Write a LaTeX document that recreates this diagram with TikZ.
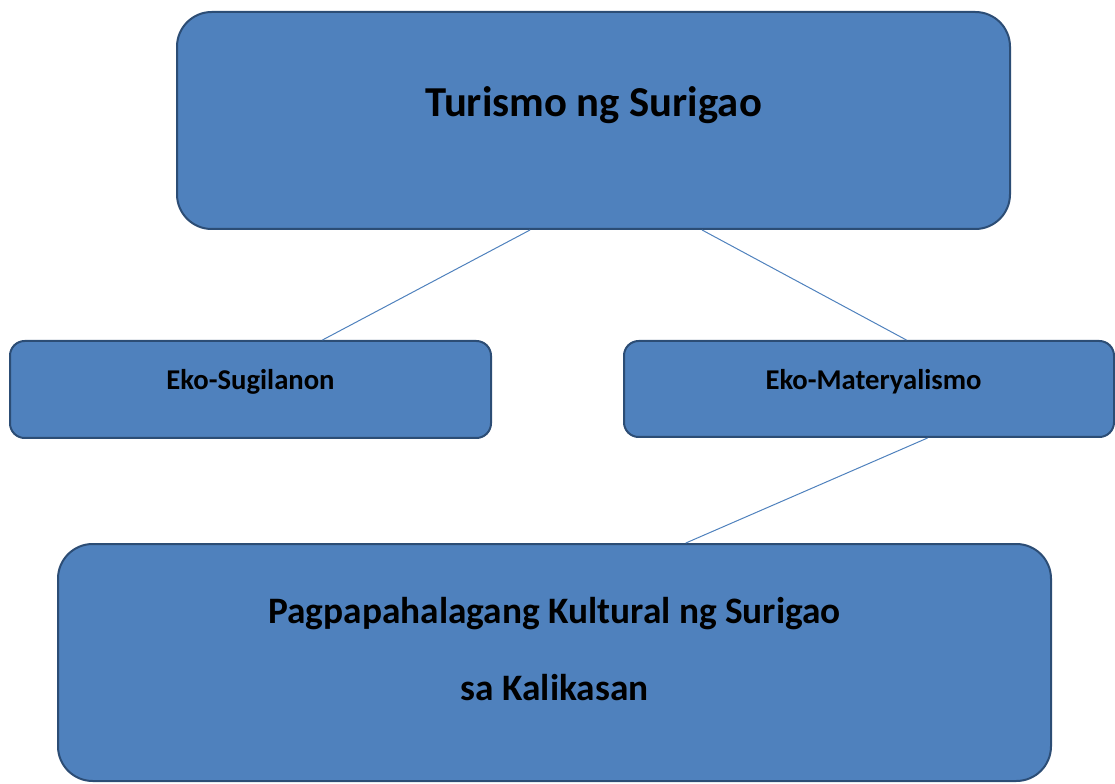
\documentclass[tikz,border=0pt]{standalone}
\usepackage{fontspec}
\setmainfont{Carlito}
\usetikzlibrary{calc}
\definecolor{boxblue}{HTML}{4F81BD}
\definecolor{boxedge}{HTML}{2C4D75}

\begin{document}
\begin{tikzpicture}[x=0.75pt,y=-0.75pt,
    bigbox/.style={draw=boxedge,fill=boxblue,line width=1.5pt,rounded corners=26pt,inner sep=0pt},
    smallbox/.style={draw=boxedge,fill=boxblue,line width=1.5pt,rounded corners=11pt,inner sep=0pt},
    txt/.style={anchor=base,inner sep=0pt,font=\bfseries}]
    \useasboundingbox (0,0) rectangle (1115,784);
    \node [bigbox,minimum width=624.75pt,minimum height=162.75pt] (turismo) at (593.5,120.5) {};
    \node [smallbox,minimum width=360.75pt,minimum height=72.75pt] (sugilanon) at (250.5,389.5) {};
    \node [smallbox,minimum width=367.5pt,minimum height=72pt] (materyal) at (869,389) {};
    \node [bigbox,minimum width=744.75pt,minimum height=177.75pt] (kultural) at (554.5,662.5) {};
    \node [txt,font=\fontsize{32}{38}\selectfont\bfseries] (t1) at (593.5,117) {Turismo ng Surigao};
    \node [txt,font=\fontsize{21.5}{26}\selectfont\bfseries] (t2) at (250.5,390) {Eko-Sugilanon};
    \node [txt,font=\fontsize{21.5}{26}\selectfont\bfseries] (t3) at (873.5,390) {Eko-Materyalismo};
    \node [txt,font=\fontsize{28}{33}\selectfont\bfseries] (t4) at (554.5,623) {Pagpapahalagang Kultural ng Surigao};
    \node [txt,font=\fontsize{28}{33}\selectfont\bfseries] (t5) at (554.5,700) {sa Kalikasan};
    % lines
    \draw [boxblue,line width=0.75pt] ($(turismo.south west)!0.424!(turismo.south east)$) -- ($(sugilanon.north west)!0.649!(sugilanon.north east)$);
    \draw [boxblue,line width=0.75pt] ($(turismo.south west)!0.630!(turismo.south east)$) -- ($(materyal.north west)!0.576!(materyal.north east)$);
    \draw [boxblue,line width=0.75pt] ($(materyal.south west)!0.619!(materyal.south east)$) -- ($(kultural.north west)!0.632!(kultural.north east)$);
\end{tikzpicture}
\end{document}
